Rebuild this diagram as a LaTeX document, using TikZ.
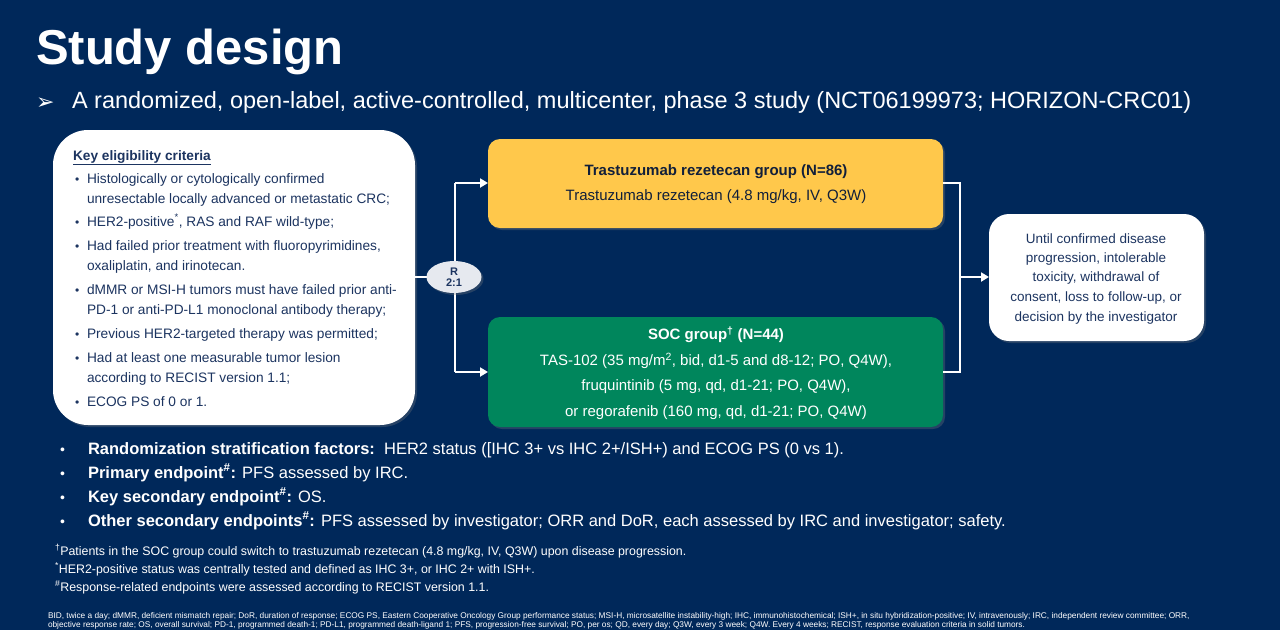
\documentclass[tikz,border=0pt]{standalone}
\usepackage{fontspec}
\setmainfont{Liberation Sans}
\newfontfamily\symfont{DejaVu Sans}
\usetikzlibrary{arrows.meta,shadows,shapes.geometric}
\definecolor{navy}{RGB}{0,40,90}
\definecolor{boxtxt}{RGB}{28,52,96}
\definecolor{ygold}{RGB}{255,200,75}
\definecolor{sgreen}{RGB}{0,134,92}
\definecolor{rgrey}{RGB}{230,233,239}
\tikzset{
  every node/.style={inner sep=0pt, outer sep=0pt},
  conn/.style={draw=white, line width=2pt},
  arr/.style={draw=white, line width=2pt, -{Triangle[length=8pt,width=9pt]}},
  shad/.style={drop shadow={opacity=0.3, shadow xshift=2pt, shadow yshift=-2pt}},
  crit/.style={anchor=base west, text=boxtxt, font=\fontsize{13.7}{16}\selectfont},
  bul/.style={anchor=base west, text=boxtxt, font=\fontsize{12}{16}\selectfont},
  armtxt/.style={anchor=center, font=\fontsize{15}{18}\selectfont},
  endtxt/.style={anchor=center, text=boxtxt, font=\fontsize{13.5}{16}\selectfont},
  btxt/.style={anchor=base west, text=white, font=\fontsize{16.5}{19}\selectfont},
  bdot/.style={anchor=base west, text=white, font=\fontsize{14}{19}\selectfont},
  fnote/.style={anchor=base west, text=white, font=\fontsize{12.4}{14}\selectfont},
  abbr/.style={anchor=base west, text=white, font=\fontsize{8.3}{9}\selectfont},
}
\begin{document}
\begin{tikzpicture}[x=1pt,y=-1pt]
\fill[navy] (0,0) rectangle (1280,630);
\useasboundingbox (0,0) rectangle (1280,630);

% title
\node[anchor=base west, text=white, font=\fontsize{49}{58}\selectfont\bfseries] (title) at (36,64) {Study design};
\node[anchor=base west, text=white, font=\symfont\fontsize{22}{26}\selectfont] (arrowsym) at (36,109) {➢};
\node[anchor=base west, text=white, font=\fontsize{23.5}{27}\selectfont] (sub) at (72,108) {A randomized, open-label, active-controlled, multicenter, phase 3 study (NCT06199973; HORIZON-CRC01)};

% eligibility box
\node[fill=white, rounded corners=35pt, shad, minimum width=362pt, minimum height=295pt, anchor=north west] (crit) at (53,130) {};
\node[crit, font=\fontsize{13.7}{16}\selectfont\bfseries] (k0) at (73,160) {\underline{Key eligibility criteria}};
\node[bul] (d1) at (75,183) {•};
\node[crit] (k1) at (87,183) {Histologically or cytologically confirmed};
\node[crit] (k1b) at (87,203) {unresectable locally advanced or metastatic CRC;};
\node[bul] (d2) at (75,226) {•};
\node[crit] (k2) at (87,226) {HER2-positive\textsuperscript{*}, RAS and RAF wild-type;};
\node[bul] (d3) at (75,250) {•};
\node[crit] (k3) at (87,250) {Had failed prior treatment with fluoropyrimidines,};
\node[crit] (k3b) at (87,270) {oxaliplatin, and irinotecan.};
\node[bul] (d4) at (75,294) {•};
\node[crit] (k4) at (87,294) {dMMR or MSI-H tumors must have failed prior anti-};
\node[crit] (k4b) at (87,314) {PD-1 or anti-PD-L1 monoclonal antibody therapy;};
\node[bul] (d5) at (75,338) {•};
\node[crit] (k5) at (87,338) {Previous HER2-targeted therapy was permitted;};
\node[bul] (d6) at (75,362) {•};
\node[crit] (k6) at (87,362) {Had at least one measurable tumor lesion};
\node[crit] (k6b) at (87,382) {according to RECIST version 1.1;};
\node[bul] (d7) at (75,406) {•};
\node[crit] (k7) at (87,406) {ECOG PS of 0 or 1.};

% arms
\node[fill=ygold, rounded corners=12pt, shad, minimum width=455pt, minimum height=89pt, anchor=north west] (tr) at (488,139) {};
\node[armtxt, text=boxtxt!60!black, font=\fontsize{15}{18}\selectfont\bfseries] (tr1) at (716,172) {Trastuzumab rezetecan group (N=86)};
\node[armtxt, text=boxtxt!60!black] (tr2) at (716,197) {Trastuzumab rezetecan (4.8 mg/kg, IV, Q3W)};

\node[fill=sgreen, rounded corners=12pt, shad, minimum width=455pt, minimum height=110pt, anchor=north west] (soc) at (488,317) {};
\node[armtxt, text=white, font=\fontsize{15}{18}\selectfont\bfseries] (s1) at (716,335) {SOC group\textsuperscript{†} (N=44)};
\node[armtxt, text=white] (s2) at (716,361) {TAS-102 (35 mg/m\textsuperscript{2}, bid, d1-5 and d8-12; PO, Q4W),};
\node[armtxt, text=white] (s3) at (716,387) {fruquintinib (5 mg, qd, d1-21; PO, Q4W),};
\node[armtxt, text=white] (s4) at (716,413) {or regorafenib (160 mg, qd, d1-21; PO, Q4W)};

% end box
\node[fill=white, rounded corners=20pt, shad, minimum width=215pt, minimum height=127pt, anchor=north west] (endb) at (989,214) {};
\node[endtxt] (e1) at (1096,239) {Until confirmed disease};
\node[endtxt] (e2) at (1096,259) {progression, intolerable};
\node[endtxt] (e3) at (1096,278) {toxicity, withdrawal of};
\node[endtxt] (e4) at (1096,298) {consent, loss to follow-up, or};
\node[endtxt] (e5) at (1096,318) {decision by the investigator};

% connectors
\coordinate (ctop) at (455,183);
\coordinate (cbot) at (455,372);
\coordinate (rtop) at (960,183);
\coordinate (rbot) at (960,372);
\coordinate (rmid) at (960,277);
\draw[conn] (ctop) -- (cbot);
\draw[conn] (crit.east |- 0,277) -- (455,277);
\draw[arr] (ctop) -- (tr.west |- ctop);
\draw[arr] (cbot) -- (soc.west |- cbot);
\draw[conn] (tr.east |- rtop) -- (rtop) -- (rbot) -- (soc.east |- rbot);
\draw[arr] (rmid) -- (endb.west |- rmid);

\node[ellipse, fill=rgrey, shad, minimum width=55pt, minimum height=32pt] (rand) at (454,277) {};
\node[text=boxtxt, font=\fontsize{11}{12}\selectfont\bfseries, align=center] (randt) at (454,277) {R\\[-0.5pt]2:1};

% bottom bullets
\node[bdot] (bd1) at (60,454) {•};
\node[btxt] (b1) at (88,454) {\textbf{Randomization stratification factors:}\ \ HER2 status ([IHC 3+ vs IHC 2+/ISH+) and ECOG PS (0 vs 1).};
\node[bdot] (bd2) at (60,478) {•};
\node[btxt] (b2) at (88,478) {\textbf{Primary endpoint\textsuperscript{\#}:} PFS assessed by IRC.};
\node[bdot] (bd3) at (60,502) {•};
\node[btxt] (b3) at (88,502) {\textbf{Key secondary endpoint\textsuperscript{\#}:} OS.};
\node[bdot] (bd4) at (60,526) {•};
\node[btxt] (b4) at (88,526) {\textbf{Other secondary endpoints\textsuperscript{\#}:} PFS assessed by investigator; ORR and DoR, each assessed by IRC and investigator; safety.};

% footnotes
\node[fnote] (f1) at (55,555) {\textsuperscript{†}Patients in the SOC group could switch to trastuzumab rezetecan (4.8 mg/kg, IV, Q3W) upon disease progression.};
\node[fnote] (f2) at (55,573) {\textsuperscript{*}HER2-positive status was centrally tested and defined as IHC 3+, or IHC 2+ with ISH+.};
\node[fnote] (f3) at (55,591) {\textsuperscript{\#}Response-related endpoints were assessed according to RECIST version 1.1.};

% abbreviations
\node[abbr] (a1) at (48,618) {BID, twice a day; dMMR, deficient mismatch repair; DoR, duration of response; ECOG PS, Eastern Cooperative Oncology Group performance status; MSI-H, microsatellite instability-high; IHC, immunohistochemical; ISH+, in situ hybridization-positive; IV, intravenously; IRC, independent review committee; ORR,};
\node[abbr] (a2) at (48,627) {objective response rate; OS, overall survival; PD-1, programmed death-1; PD-L1, programmed death-ligand 1; PFS, progression-free survival; PO, per os; QD, every day; Q3W, every 3 week; Q4W. Every 4 weeks; RECIST, response evaluation criteria in solid tumors.};
\end{tikzpicture}
\end{document}
